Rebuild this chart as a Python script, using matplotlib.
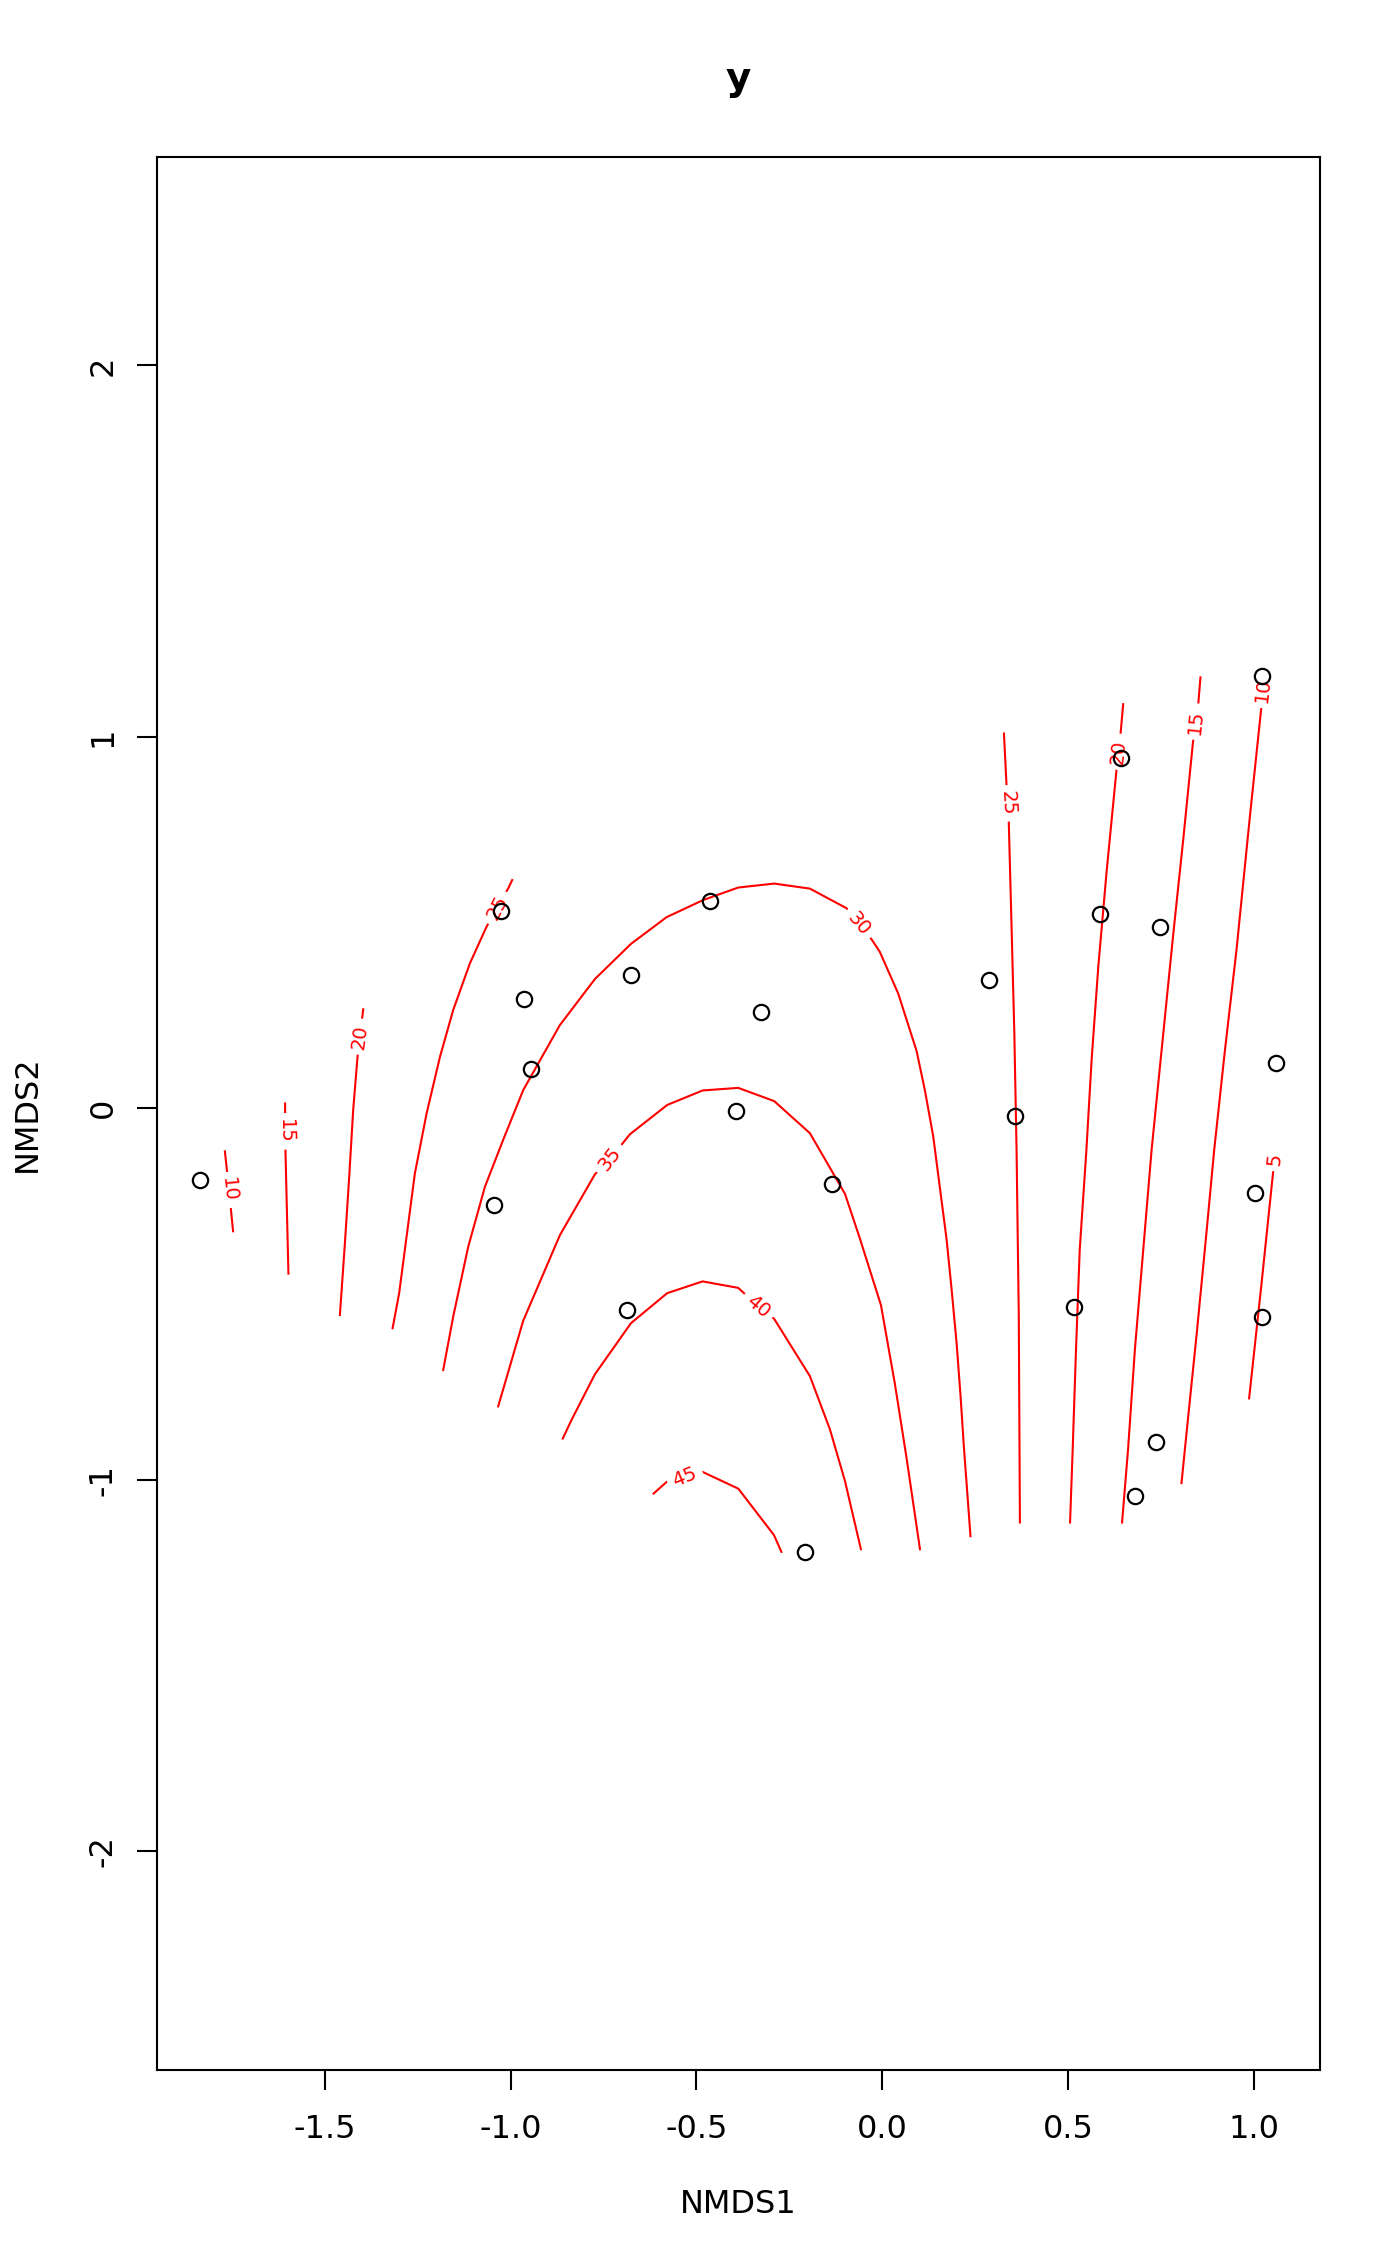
import matplotlib
matplotlib.use("Agg")
import matplotlib.pyplot as plt

# site scores (NMDS1, NMDS2)
nmds1 = [1.024, 0.642, 0.587, 0.749, 0.288, 1.060, 0.358, 1.003, 1.024, 0.517,
         0.737, 0.682, -0.207, -0.135, -0.394, -0.326, -0.462, -0.676, -0.963,
         -1.027, -0.946, -1.044, -0.686, -1.836]
nmds2 = [1.164, 0.943, 0.523, 0.489, 0.345, 0.121, -0.021, -0.227, -0.562, -0.534,
         -0.898, -1.044, -1.194, -0.203, -0.007, 0.259, 0.559, 0.360, 0.293,
         0.532, 0.106, -0.260, -0.544, -0.193]

# fitted surface contours
c10a_x = [-1.769, -1.758, -1.747]
c10a_y = [-0.116, -0.220, -0.331]
c15a_x = [-1.607, -1.6065, -1.606, -1.598]
c15a_y = [0.013, -0.062, -0.116, -0.445]
c20a_x = [-1.3967, -1.4056, -1.412, -1.4237, -1.4344, -1.446, -1.4595]
c20a_y = [0.2665, 0.193, 0.139, -0.0046, -0.184, -0.3634, -0.5564]
c25a_x = [-0.9957, -1.0064, -1.040, -1.0646, -1.1096, -1.1545, -1.190, -1.226,
          -1.2576, -1.280, -1.300, -1.3176]
c25a_y = [0.6145, 0.592, 0.534, 0.489, 0.390, 0.2646, 0.139, -0.0135,
          -0.175, -0.3456, -0.498, -0.592]
c30_x = [-1.1814, -1.1545, -1.114, -1.069, -1.020, -0.966, -0.8673, -0.773, -0.676,
         -0.580, -0.4815, -0.3873, -0.2904, -0.1943, -0.0956, -0.0643, -0.0283,
         -0.006, 0.0434, 0.093, 0.1153, 0.1376, 0.1736, 0.187, 0.2005, 0.2113,
         0.220, 0.238]
c30_y = [-0.7045, -0.561, -0.3725, -0.211, -0.085, 0.049, 0.224, 0.348, 0.4426,
         0.5146, 0.5607, 0.5943, 0.605, 0.5914, 0.5386, 0.4953, 0.455,
         0.421, 0.309, 0.154, 0.048, -0.075, -0.3526, -0.486, -0.631, -0.775,
         -0.909, -1.152]
c35_x = [-1.0334, -0.966, -0.867, -0.773, -0.7325, -0.6789, -0.5785, -0.4832,
         -0.3873, -0.2904, -0.1943, -0.100, -0.0597, -0.003, 0.0345, 0.066, 0.102]
c35_y = [-0.8024, -0.5718, -0.341, -0.1777, -0.137, -0.070, 0.0089, 0.048,
         0.055, 0.0194, -0.067, -0.230, -0.3507, -0.530, -0.742, -0.942, -1.187]
c40_x = [-0.8595, -0.836, -0.773, -0.676, -0.5785, -0.4832, -0.3873, -0.3335,
         -0.2904, -0.1943, -0.1405, -0.100, -0.057]
c40_y = [-0.889, -0.839, -0.716, -0.5785, -0.4977, -0.466, -0.4834, -0.533,
         -0.567, -0.721, -0.864, -1.003, -1.187]
c45_x = [-0.615, -0.579, -0.531, -0.483, -0.387, -0.291, -0.271]
c45_y = [-1.037, -1.005, -0.992, -0.979, -1.024, -1.149, -1.194]
c25b_x = [0.328, 0.335, 0.338, 0.341, 0.349, 0.356, 0.362, 0.368, 0.371]
c25b_y = [1.009, 0.870, 0.821, 0.772, 0.471, 0.202, -0.112, -0.561, -1.115]
c20b_x = [0.649, 0.642, 0.6365, 0.631, 0.604, 0.582, 0.564, 0.550, 0.532,
          0.522, 0.513, 0.506]
c20b_y = [1.088, 1.009, 0.960, 0.911, 0.633, 0.381, 0.130, -0.112, -0.381,
          -0.650, -0.920, -1.115]
c15b_x = [0.857, 0.851, 0.845, 0.837, 0.8105, 0.784, 0.757, 0.7255, 0.703,
          0.6805, 0.662, 0.646]
c15b_y = [1.160, 1.087, 1.041, 0.987, 0.722, 0.471, 0.202, -0.112, -0.381,
          -0.650, -0.920, -1.115]
c10b_x = [1.026, 1.0197, 0.990, 0.954, 0.923, 0.894, 0.873, 0.847, 0.824, 0.806]
c10b_y = [1.126, 1.0676, 0.785, 0.426, 0.157, -0.112, -0.3365, -0.606, -0.830, -1.009]
c5_x = [1.057, 1.053, 1.0215, 0.988]
c5_y = [-0.137, -0.168, -0.471, -0.781]

# (label, xs, ys, label position, label angle)
contours = [
    ("10", c10a_x, c10a_y, (-1.758, -0.220), -84),
    ("15", c15a_x, c15a_y, (-1.6065, -0.062), -89),
    ("20", c20a_x, c20a_y, (-1.4056, 0.193), 82),
    ("25", c25a_x, c25a_y, (-1.036, 0.540), 62),
    ("30", c30_x, c30_y, (-0.0643, 0.4953), -50),
    ("35", c35_x, c35_y, (-0.7325, -0.137), 52),
    ("40", c40_x, c40_y, (-0.3335, -0.533), -40),
    ("45", c45_x, c45_y, (-0.531, -0.992), 22),
    ("25", c25b_x, c25b_y, (0.338, 0.821), -87),
    ("20", c20b_x, c20b_y, (0.6365, 0.960), 84),
    ("15", c15b_x, c15b_y, (0.845, 1.041), 84),
    ("10", c10b_x, c10b_y, (1.026, 1.126), 83),
    ("5", c5_x, c5_y, (1.057, -0.137), 85),
]

W, H = 1400, 2266
fig = plt.figure(figsize=(7, 11.33), dpi=200)
ax = fig.add_axes([157.3 / W, (H - 2070) / H, 1162.4 / W, 1913 / H])

for lev, xs, ys, (lx, ly), ang in contours:
    ax.plot(xs, ys, color="#ff0000", lw=0.75, zorder=1)
    ax.text(lx, ly, lev, color="#ff0000", fontsize=7, rotation=ang,
            rotation_mode="anchor", ha="center", va="center", zorder=2,
            bbox=dict(boxstyle="square,pad=0.3", fc="white", ec="none"))

ax.plot(nmds1, nmds2, "o", mfc="none", mec="black", ms=5.5, mew=0.8, zorder=3)

ax.set_xlim(-1.951, 1.178)
ax.set_ylim(-2.589, 2.561)
ax.set_xticks([-1.5, -1.0, -0.5, 0.0, 0.5, 1.0])
ax.set_xticklabels(["-1.5", "-1.0", "-0.5", "0.0", "0.5", "1.0"])
ax.set_yticks([-2, -1, 0, 1, 2])
ax.set_yticklabels(["-2", "-1", "0", "1", "2"], rotation=90, va="center")
ax.tick_params(axis="both", length=7.2, width=0.75, labelsize=11.5, direction="out")
ax.tick_params(axis="x", pad=8.5)
ax.tick_params(axis="y", pad=6.8)
for s in ax.spines.values():
    s.set_linewidth(0.75)

ax.set_xlabel("NMDS1", fontsize=11.5, labelpad=16)
ax.set_ylabel("NMDS2", fontsize=11.5, labelpad=16)
ax.set_title("y", fontsize=14, fontweight="bold", pad=24)

fig.savefig("out.png", dpi=200)
